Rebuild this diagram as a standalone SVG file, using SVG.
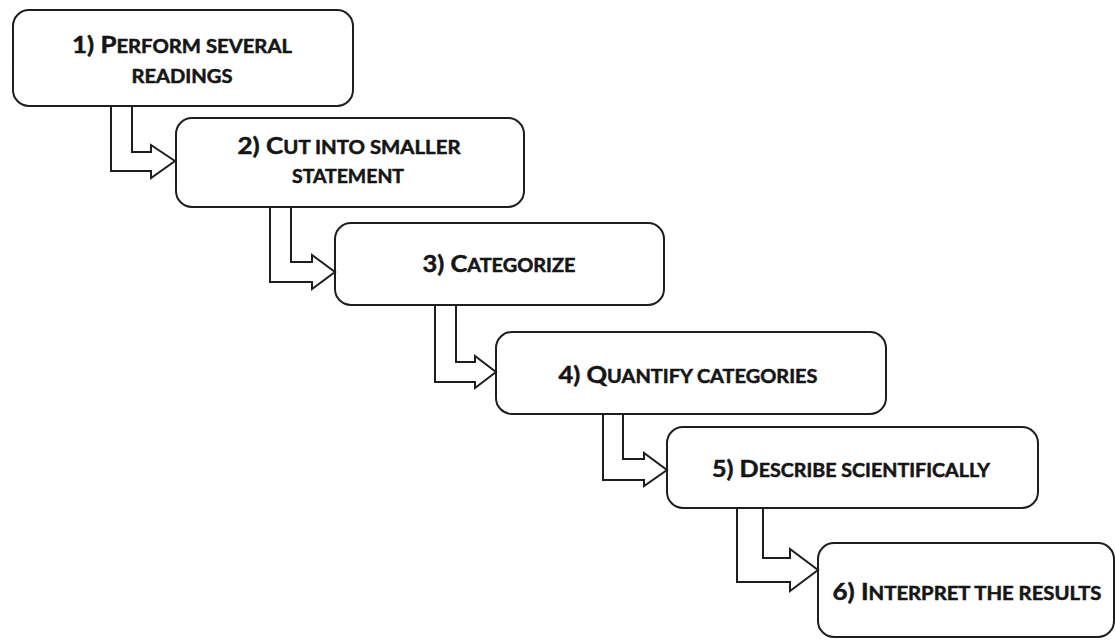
<svg xmlns="http://www.w3.org/2000/svg" width="1115" height="640" viewBox="0 0 1115 640">
  <style>
    .box { fill: #ffffff; stroke: #1e1e1e; stroke-width: 2; }
    .arrow { fill: #ffffff; stroke: #1e1e1e; stroke-width: 2; stroke-linejoin: miter; }
    .label { font-family: Lato, "Liberation Sans", sans-serif; font-weight: 700; font-size: 23px; fill: #151515; stroke: #151515; stroke-width: 0.5; text-anchor: middle; }
    .sc { font-size: 18px; }
  </style>
  <rect width="1115" height="640" fill="#ffffff"/>

  <!-- step boxes; labels set in small capitals -->
  <g id="step1">
    <rect class="box" x="13" y="10" width="340" height="96" rx="16"/>
    <text class="label" x="182" y="53" textLength="220" lengthAdjust="spacingAndGlyphs">1) P<tspan class="sc">ERFORM SEVERAL</tspan></text>
    <text class="label" x="182" y="83" textLength="101" lengthAdjust="spacingAndGlyphs"><tspan class="sc">READINGS</tspan></text>
  </g>
  <g id="step2">
    <rect class="box" x="176" y="118" width="348" height="89" rx="16"/>
    <text class="label" x="349" y="154" textLength="223" lengthAdjust="spacingAndGlyphs">2) C<tspan class="sc">UT INTO SMALLER</tspan></text>
    <text class="label" x="348" y="183" textLength="112" lengthAdjust="spacingAndGlyphs"><tspan class="sc">STATEMENT</tspan></text>
  </g>
  <g id="step3">
    <rect class="box" x="335" y="223" width="329" height="82" rx="16"/>
    <text class="label" x="499" y="272" textLength="153" lengthAdjust="spacingAndGlyphs">3) C<tspan class="sc">ATEGORIZE</tspan></text>
  </g>
  <g id="step4">
    <rect class="box" x="496" y="332" width="390" height="82" rx="16"/>
    <text class="label" x="688" y="383" textLength="259" lengthAdjust="spacingAndGlyphs">4) Q<tspan class="sc">UANTIFY CATEGORIES</tspan></text>
  </g>
  <g id="step5">
    <rect class="box" x="667" y="427" width="371" height="81" rx="16"/>
    <text class="label" x="851" y="477" textLength="278" lengthAdjust="spacingAndGlyphs">5) D<tspan class="sc">ESCRIBE SCIENTIFICALLY</tspan></text>
  </g>
  <g id="step6">
    <rect class="box" x="818" y="543" width="296" height="94" rx="16"/>
    <text class="label" x="967" y="600" textLength="269" lengthAdjust="spacingAndGlyphs">6) I<tspan class="sc">NTERPRET THE RESULTS</tspan></text>
  </g>

  <!-- bent block arrows between consecutive steps -->
  <g id="connectors">
    <path class="arrow" d="M111,106 V171 H151 V178 L175,161 L151,145 V152 H132 V106 Z"/>
    <path class="arrow" d="M270,207 V282 H312 V289 L335,272 L312,255 V262 H291 V207 Z"/>
    <path class="arrow" d="M435,305 V382 H475 V388 L496,372 L475,356 V362 H456 V305 Z"/>
    <path class="arrow" d="M603,414 V480 H644 V486 L667,470 L644,453 V459 H623 V414 Z"/>
    <path class="arrow" d="M737,508 V582 H790 V591 L818,570 L790,549 V558 H763 V508 Z"/>
  </g>
</svg>
